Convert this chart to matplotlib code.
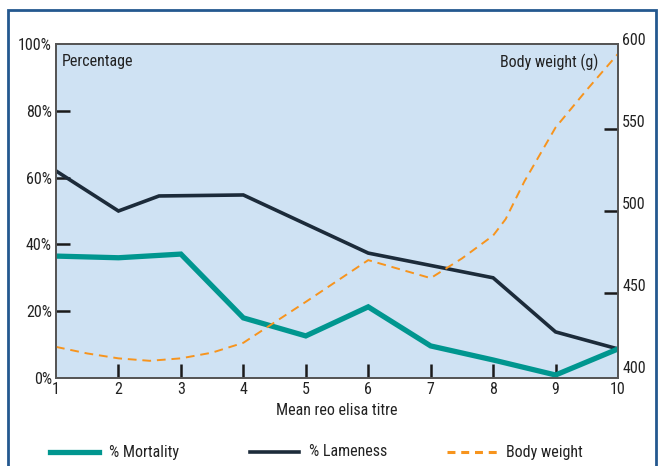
import numpy as np
import matplotlib
matplotlib.use('Agg')
from matplotlib import pyplot as plt
from matplotlib import patches, transforms, font_manager
from matplotlib.lines import Line2D

# narrow face like the original, if there is one
installed = {f.name for f in font_manager.fontManager.ttflist}
family = 'DejaVu Sans'
for name in ['Roboto Condensed', 'Liberation Sans Narrow', 'Archivo Narrow',
             'Asap Condensed', 'Barlow Condensed']:
    if name in installed:
        family = name
        break
plt.rcParams['font.family'] = [family, 'DejaVu Sans']

# data
mort_x = [1, 2, 3, 4, 5, 6, 7, 8, 9, 10]
mort_y = [36.5, 36.0, 37.1, 18.0, 12.6, 21.3, 9.6, 5.4, 0.9, 8.7]

lame_x = [1, 2, 2.65, 4, 6, 8, 9, 10]
lame_y = [62.0, 50.0, 54.5, 54.8, 37.4, 30.0, 13.8, 8.7]

bw_x = [1, 1.5, 2, 2.5, 3, 3.5, 4, 5, 6, 7, 7.5, 8, 8.2, 8.5, 9, 9.5, 10]
bw_y = [417, 413, 410, 408.5, 410, 413.5, 419.5, 444.5, 470, 459, 471, 485, 495, 518, 551, 574, 596]

xticks = list(range(1, 11))
lticks = [0, 20, 40, 60, 80, 100]
rticks = [400, 450, 500, 550, 600]
labels = ['% Mortality', '% Lameness', 'Body weight']

teal = '#00968f'
navy = '#1c2b3a'
orange = '#f7941d'
txt = '#222222'
fs = 11.5

fig = plt.figure(figsize=(6.59, 4.66), dpi=100)
ax = fig.add_axes([56/659, 1-378/466, (618-56)/659, (378-44)/466])
ax.set_facecolor('#cfe2f3')
ax2 = ax.twinx()

l1, = ax.plot(mort_x, mort_y, color=teal, lw=3.8, solid_joinstyle='miter', zorder=3)
l2, = ax.plot(lame_x, lame_y, color=navy, lw=2.6, solid_joinstyle='miter', zorder=2)
l3, = ax2.plot(bw_x, bw_y, color=orange, lw=1.4, dashes=(4.5, 3))

ax.set_xlim(1, 10)
ax.set_ylim(0, 100)
ax2.set_ylim(398, 602)

ax.set_xticks(xticks)
ax.set_yticks(lticks)
ax.set_yticklabels([f'{v}%' for v in lticks])
ax2.set_yticks(rticks)

for a in (ax, ax2):
    for s in a.spines.values():
        s.set_color('#555555')
        s.set_linewidth(1.3)
ax.tick_params(axis='both', direction='in', length=10, width=1.8, color='#1a1a1a',
               labelsize=fs, labelcolor=txt, pad=3)
ax2.tick_params(axis='y', direction='in', length=10, width=1.8, color='#1a1a1a',
                labelsize=fs, labelcolor=txt, pad=3)

# no tick marks at the corners
for t in (ax.xaxis.get_major_ticks()[0], ax.xaxis.get_major_ticks()[-1],
          ax.yaxis.get_major_ticks()[0], ax.yaxis.get_major_ticks()[-1],
          ax2.yaxis.get_major_ticks()[0], ax2.yaxis.get_major_ticks()[-1]):
    t.tick1line.set_visible(False)
    t.tick2line.set_visible(False)

# right labels sit a bit above their ticks
off = transforms.ScaledTranslation(0, 8/100, fig.dpi_scale_trans)
for lab in ax2.get_yticklabels():
    lab.set_transform(lab.get_transform() + off)

ax.set_xlabel('Mean reo elisa titre', fontsize=fs, color=txt, labelpad=4)
ax.text(0.01, 0.97, 'Percentage', transform=ax.transAxes, fontsize=fs,
        color=txt, ha='left', va='top')
ax.text(0.965, 0.97, 'Body weight (g)', transform=ax.transAxes, fontsize=fs,
        color=txt, ha='right', va='top')

# legend row under the plot
ly = 1 - 452/466
for line, lab, x0 in zip([l1, l2, l3], labels, [50, 250, 447]):
    if line is l3:
        h = Line2D([x0/659, (x0+50)/659], [ly, ly], transform=fig.transFigure,
                   color=orange, lw=2.2, dashes=(2.6, 1.9))
    else:
        h = Line2D([x0/659, (x0+49)/659], [ly, ly], transform=fig.transFigure,
                   color=line.get_color(), lw=line.get_linewidth())
    fig.add_artist(h)
    fig.text((x0+59)/659, ly, lab, fontsize=fs, color=txt, ha='left', va='center')

fig.patches.append(patches.Rectangle((8/659, -0.1), (656-8)/659, 1.1-10/466,
                                     transform=fig.transFigure, fill=False,
                                     edgecolor='#24588f', lw=2, clip_on=False))

fig.savefig('out.png', dpi=100)
